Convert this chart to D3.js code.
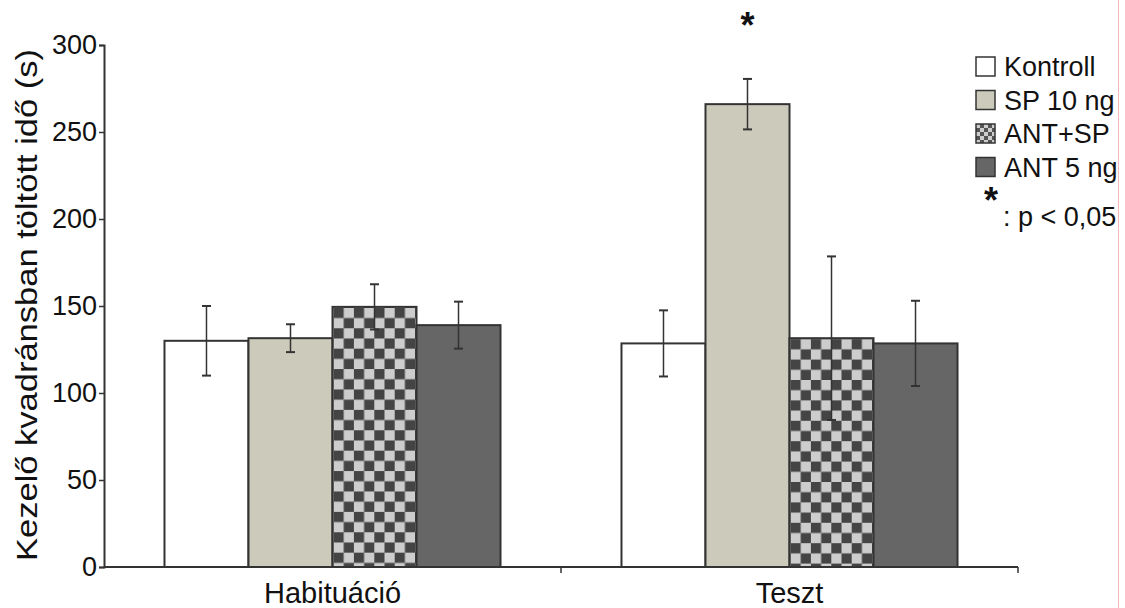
<!DOCTYPE html>
<html>
<head>
<meta charset="utf-8">
<script src="https://d3js.org/d3.v7.min.js"></script>
<style>
  body { margin: 0; background: #fff; }
  text { font-family: "Liberation Sans", Arial, sans-serif; fill: #111; }
</style>
</head>
<body>
<script>
// data
const groups = ["Habituáció", "Teszt"];
const series = ["Kontroll", "SP 10 ng", "ANT+SP", "ANT 5 ng"];
const habMeans = [130, 131.5, 149.5, 139];
const habErrs = [20, 8, 13, 13.5];
const tesztMeans = [128.5, 266, 131.5, 128.5];
const tesztErrs = [19, 14.5, 47, 24.5];
const yTicks = [0, 50, 100, 150, 200, 250, 300];
const sigGroup = "Teszt", sigSeries = "SP 10 ng";

const W = 1125, H = 608;
const margin = {left: 104, top: 45, right: 107, bottom: 41};

const svg = d3.select("body").append("svg")
    .attr("width", W).attr("height", H);
const defs = svg.append("defs");

const data = [];
groups.forEach((g, gi) => {
    const means = gi === 0 ? habMeans : tesztMeans;
    const errs = gi === 0 ? habErrs : tesztErrs;
    series.forEach((s, si) => data.push({group: g, series: s, value: means[si], err: errs[si]}));
});

const x0 = d3.scaleBand().domain(groups)
    .range([margin.left, W - margin.right]).paddingInner(0).paddingOuter(0);
const x1 = d3.scaleBand().domain(series)
    .range([0, x0.bandwidth()]).paddingOuter(0.72).paddingInner(0);
const y = d3.scaleLinear().domain([0, 300]).range([H - margin.bottom, margin.top]);

// checker pattern, one per group so it lines up with the bar corner
function checker(id, px, py, cell, dark) {
    const p = defs.append("pattern")
        .attr("id", id)
        .attr("patternUnits", "userSpaceOnUse")
        .attr("x", px).attr("y", py)
        .attr("width", cell * 2).attr("height", cell * 2);
    p.append("rect").attr("width", cell * 2).attr("height", cell * 2).attr("fill", "#cdcdcd");
    p.append("rect").attr("width", cell).attr("height", cell).attr("fill", dark);
    p.append("rect").attr("x", cell).attr("y", cell).attr("width", cell).attr("height", cell).attr("fill", dark);
}
groups.forEach((g, gi) => {
    const d = data.find(e => e.group === g && e.series === "ANT+SP");
    checker("checker" + gi, x0(g) + x1("ANT+SP") + 1, y(d.value) + 1, 10.2, "#444");
});

const fills = {"Kontroll": "#ffffff", "SP 10 ng": "#cccbbb", "ANT 5 ng": "#666666"};
function barFill(d) {
    if (d.series === "ANT+SP") return "url(#checker" + groups.indexOf(d.group) + ")";
    return fills[d.series];
}

// bars
svg.append("g").selectAll("rect").data(data).join("rect")
    .attr("x", d => x0(d.group) + x1(d.series))
    .attr("y", d => y(d.value))
    .attr("width", x1.bandwidth())
    .attr("height", d => y(0) - y(d.value))
    .attr("fill", barFill)
    .attr("stroke", "#333")
    .attr("stroke-width", 2);

// error bars
const eb = svg.append("g").attr("stroke", "#333").attr("stroke-width", 1.5);
data.forEach(d => {
    const cx = x0(d.group) + x1(d.series) + x1.bandwidth() / 2;
    eb.append("line").attr("x1", cx).attr("x2", cx)
        .attr("y1", y(d.value + d.err)).attr("y2", y(d.value - d.err));
    [d.value + d.err, d.value - d.err].forEach(v => {
        eb.append("line").attr("x1", cx - 4.5).attr("x2", cx + 4.5)
            .attr("y1", y(v)).attr("y2", y(v)).attr("stroke-width", 2);
    });
});

// significance star
const sd = data.find(d => d.group === sigGroup && d.series === sigSeries);
svg.append("text")
    .attr("x", x0(sd.group) + x1(sd.series) + x1.bandwidth() / 2)
    .attr("y", 38)
    .attr("text-anchor", "middle")
    .attr("font-size", 36)
    .attr("font-weight", "bold")
    .text("*");

// y axis
const yAxis = svg.append("g")
    .attr("transform", `translate(${margin.left},0)`)
    .call(d3.axisLeft(y).tickValues(yTicks).tickSize(5).tickPadding(2).tickFormat(d3.format("d")));
yAxis.select(".domain").attr("stroke", "#333").attr("stroke-width", 2);
yAxis.selectAll(".tick line").attr("stroke", "#333").attr("stroke-width", 1.5);
yAxis.selectAll(".tick text").attr("font-size", 27).attr("fill", "#111")
    .attr("font-family", "Liberation Sans, Arial, sans-serif");

// x axis
const xAxisG = svg.append("g").attr("transform", `translate(0,${y(0)})`);
xAxisG.append("line").attr("x1", margin.left).attr("x2", W - margin.right)
    .attr("stroke", "#333").attr("stroke-width", 2);
xAxisG.selectAll("line.tk").data(groups).join("line").attr("class", "tk")
    .attr("x1", g => x0(g) + x0.bandwidth()).attr("x2", g => x0(g) + x0.bandwidth())
    .attr("y1", 0).attr("y2", 6)
    .attr("stroke", "#333").attr("stroke-width", 1.5);
xAxisG.selectAll("text").data(groups).join("text")
    .attr("x", g => x0(g) + x0.bandwidth() / 2)
    .attr("y", 36)
    .attr("text-anchor", "middle")
    .attr("font-size", 29)
    .text(g => g);

// y title
svg.append("text")
    .attr("transform", "translate(37,305) rotate(-90)")
    .attr("text-anchor", "middle")
    .attr("font-size", 30)
    .attr("textLength", 512)
    .attr("lengthAdjust", "spacingAndGlyphs")
    .text("Kezelő kvadránsban töltött idő (s)");

// legend
const legFills = {"Kontroll": "#ffffff", "SP 10 ng": "#cccbbb", "ANT+SP": "url(#checkerLeg)", "ANT 5 ng": "#666666"};
checker("checkerLeg", 976, 0, 4, "#555");
const leg = svg.append("g");
series.forEach((s, i) => {
    const base = 76 + i * 33.5;
    leg.append("rect").attr("x", 976).attr("y", base - 19).attr("width", 19).attr("height", 19)
        .attr("fill", legFills[s]).attr("stroke", "#333").attr("stroke-width", 1.5);
    leg.append("text").attr("x", 1004).attr("y", base).attr("font-size", 27).text(s);
});
leg.append("text").attr("x", 984).attr("y", 213).attr("font-size", 36).attr("font-weight", "bold").text("*");
leg.append("text").attr("x", 1003).attr("y", 226).attr("font-size", 27).text(": p < 0,05");

// thin right border line
svg.append("line").attr("x1", 1118.5).attr("x2", 1118.5).attr("y1", 0).attr("y2", H)
    .attr("stroke", "#f4b8b8").attr("stroke-width", 1);
</script>
</body>
</html>
